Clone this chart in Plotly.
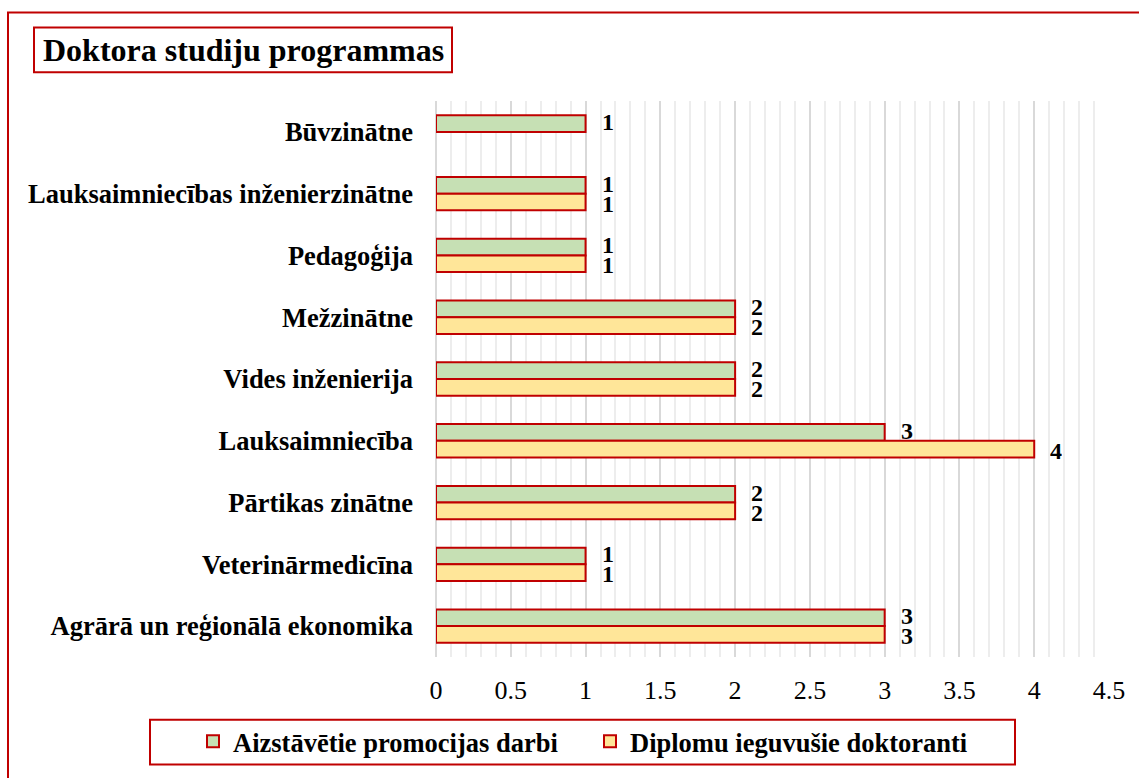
import plotly.graph_objects as go

# ---- data (top to bottom as in the chart) ----
categories = [
    "Būvzinātne",
    "Lauksaimniecības inženierzinātne",
    "Pedagoģija",
    "Mežzinātne",
    "Vides inženierija",
    "Lauksaimniecība",
    "Pārtikas zinātne",
    "Veterinārmedicīna",
    "Agrārā un reģionālā ekonomika",
]
defended = [1, 1, 1, 2, 2, 3, 2, 1, 3]           # Aizstāvētie promocijas darbi
graduated = [None, 1, 1, 2, 2, 4, 2, 1, 3]       # Diplomu ieguvušie doktoranti
series_names = ["Aizstāvētie promocijas darbi", "Diplomu ieguvušie doktoranti"]
title_text = "Doktora studiju programmas"
x_ticks = [0, 0.5, 1, 1.5, 2, 2.5, 3, 3.5, 4, 4.5]
x_tick_labels = ["0", "0.5", "1", "1.5", "2", "2.5", "3", "3.5", "4", "4.5"]

FONT = "Liberation Serif, Times New Roman, serif"
RED = "#c00000"
GREEN = "#c6e0b4"
YELLOW = "#ffe699"

W, H = 1139, 778
L, R, T, B = 436, 30, 101, 118
PW, PH = W - L - R, H - T - B


def px2x(px):
    return (px - L) / PW


def py2y(py):
    return (H - B - py) / PH


fig = go.Figure()
for name, vals, color in [(series_names[0], defended, GREEN),
                          (series_names[1], graduated, YELLOW)]:
    fig.add_trace(go.Bar(
        y=categories, x=vals, name=name, orientation="h",
        marker=dict(color=color, line=dict(color=RED, width=2)),
        hoverinfo="skip",
    ))

# data labels (value labels next to bar ends)
label_annotations = []
for vals, yshift in [(defended, 10), (graduated, -10)]:
    for cat, v in zip(categories, vals):
        if v is None:
            continue
        label_annotations.append(dict(
            x=v, y=cat, xref="x", yref="y", text=str(v), showarrow=False,
            xanchor="left", yanchor="middle", xshift=14, yshift=yshift,
            height=20, valign="middle",
            font=dict(family=FONT, size=24, color="black", weight="bold"),
        ))

fig.update_layout(
    width=W, height=H,
    margin=dict(l=L, r=R, t=T, b=B, pad=0),
    paper_bgcolor="white", plot_bgcolor="white",
    barmode="group", bargap=0.46, bargroupgap=0,
    showlegend=True,
    legend=dict(
        orientation="h", x=px2x(193), xanchor="left",
        y=py2y(745), yanchor="middle",
        font=dict(family=FONT, size=26.5, color="black", weight="bold"),
        bgcolor="rgba(0,0,0,0)", borderwidth=0,
        entrywidth=352, entrywidthmode="pixels",
        itemclick=False, itemdoubleclick=False,
    ),
    xaxis=dict(
        range=[0, 4.5], tickvals=x_ticks, ticktext=x_tick_labels,
        showgrid=True, gridcolor="#d9d9d9", gridwidth=2,
        minor=dict(dtick=0.1, showgrid=True, gridcolor="#ededed", gridwidth=1.5),
        zeroline=True, zerolinecolor="#d9d9d9", zerolinewidth=2,
        showline=False, ticks="", ticklabelstandoff=15,
        tickfont=dict(family=FONT, size=26, color="black"),
        fixedrange=True,
    ),
    yaxis=dict(
        type="category", categoryorder="array", categoryarray=categories,
        range=[8.5, -0.5], showgrid=False, zeroline=False, showline=False,
        ticks="", ticklabelstandoff=22,
        tickfont=dict(family=FONT, size=26.5, color="black", weight="bold"),
        fixedrange=True,
    ),
    shapes=[
        # outer chart border
        dict(type="rect", xref="paper", yref="paper",
             x0=px2x(8), x1=px2x(1160), y0=py2y(800), y1=py2y(12),
             line=dict(color=RED, width=2), fillcolor="rgba(0,0,0,0)", layer="below"),
        # title box
        dict(type="rect", xref="paper", yref="paper",
             x0=px2x(34), x1=px2x(452), y0=py2y(72), y1=py2y(27),
             line=dict(color=RED, width=2), fillcolor="white"),
        # legend box
        dict(type="rect", xref="paper", yref="paper",
             x0=px2x(150), x1=px2x(1015), y0=py2y(768), y1=py2y(723),
             line=dict(color=RED, width=2), fillcolor="rgba(0,0,0,0)"),
    ],
    annotations=[
        dict(text=title_text, xref="paper", yref="paper",
             x=px2x(243), y=py2y(49.5), xanchor="center", yanchor="middle",
             showarrow=False,
             font=dict(family=FONT, size=32, color="black", weight="bold")),
    ] + label_annotations,
)

fig.write_html("out.html", config={"displayModeBar": False},
               post_script="document.body.style.margin='0';document.body.style.overflow='hidden';")
